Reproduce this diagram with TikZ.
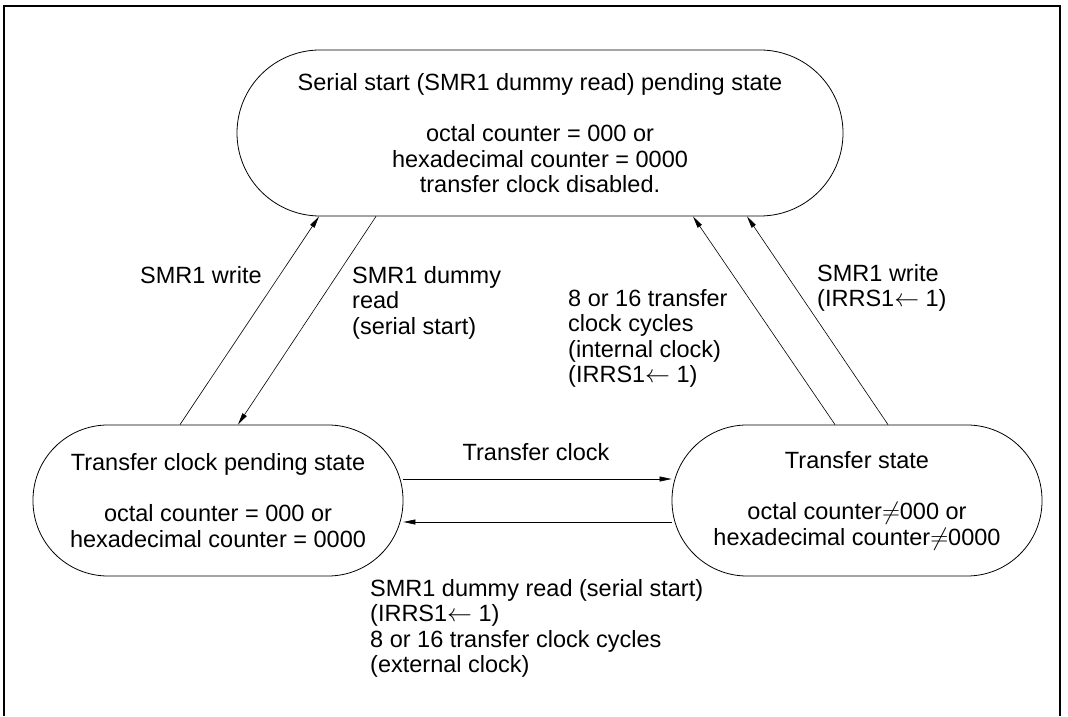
\documentclass[tikz,border=0pt]{standalone}
\usepackage{xcolor}
\usepackage{fontspec}
\usepackage{tikz}
\usetikzlibrary{arrows.meta,calc}
\setmainfont{Liberation Sans}
\newcommand\diafont{\fontsize{23.5pt}{25.5pt}\selectfont}

\begin{document}
\begin{tikzpicture}[x=1pt,y=1pt,
    every node/.style={font=\diafont},
    statebox/.style={draw,line width=0.8pt,align=center,inner sep=0pt,
        minimum width=370pt,minimum height=151pt,rounded corners=75pt},
    edgelbl/.style={align=left,inner sep=0pt,anchor=north west},
    trans/.style={line width=0.6pt,-{Triangle[length=12pt,width=5pt]}}]
    \useasboundingbox (0,0) rectangle (1068,716);
    % frame, open at the bottom
    \draw[line width=1.2pt] (4,0) |- (1060,710) -- (1060,0);

    % states
    \node[statebox,minimum width=606pt,minimum height=166pt,rounded corners=83pt] (serial) at (540,583) {
        Serial start (SMR1 dummy read) pending state\\[26pt]
        octal counter = 000 or\\
        hexadecimal counter = 0000\\
        transfer clock disabled.};
    \node[statebox] (pending) at (218,215.5) {
        Transfer clock pending state\\[26pt]
        octal counter = 000 or\\
        hexadecimal counter = 0000};
    \node[statebox] (xfer) at (857,215.5) {
        Transfer state\\[26pt]
        octal counter$\neq$000 or\\
        hexadecimal counter$\neq$0000};

    % transitions
    \draw[trans] ($(pending.north)+(-38,0)$) -- ($(serial.south)+(-221,0)$);
    \draw[trans] ($(serial.south)+(-164,0)$) -- ($(pending.north)+(20,0)$);
    \draw[trans] ($(xfer.north)+(-22,0)$) -- ($(serial.south)+(153,0)$);
    \draw[trans] ($(xfer.north)+(31,0)$) -- ($(serial.south)+(207,0)$);
    \draw[trans] ($(pending.east)+(0,21.5)$) -- ($(xfer.west)+(0,21.5)$);
    \draw[trans] ($(xfer.west)+(0,-21.5)$) -- ($(pending.east)+(0,-21.5)$);

    % labels
    \node[anchor=west,inner sep=0pt] (lblwrite) at (140,441) {SMR1 write};
    \node[edgelbl] (lbldummy) at (352,450) {SMR1 dummy\\read\\(serial start)};
    \node[edgelbl] (lblcycles) at (568,427) {8 or 16 transfer\\clock cycles\\(internal clock)\\(IRRS1$\leftarrow$ 1)};
    \node[edgelbl] (lblwriteirq) at (817,452) {SMR1 write\\(IRRS1$\leftarrow$ 1)};
    \node[inner sep=0pt] (lblclock) at (536,264) {Transfer clock};
    \node[edgelbl] (lblback) at (370,137) {SMR1 dummy read (serial start)\\(IRRS1$\leftarrow$ 1)\\8 or 16 transfer clock cycles\\(external clock)};
\end{tikzpicture}
\end{document}
